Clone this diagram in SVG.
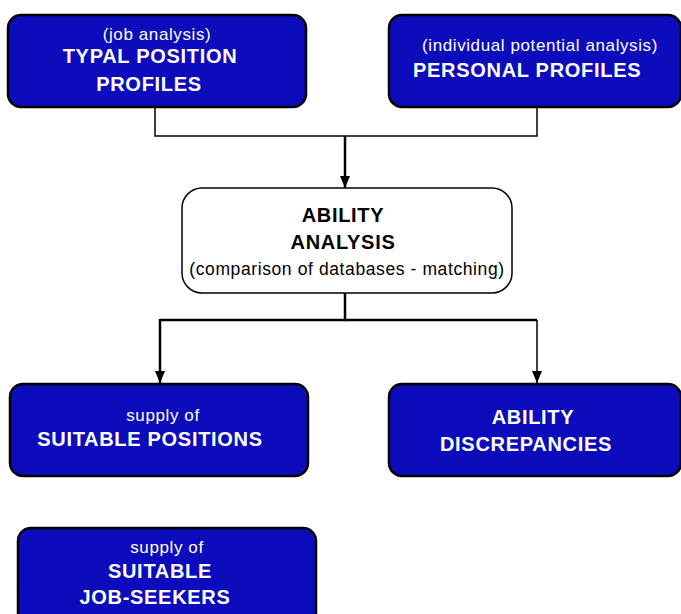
<svg xmlns="http://www.w3.org/2000/svg" width="681" height="614" viewBox="0 0 681 614">
<defs>
<style>
.blue{fill:#0c0cbc;stroke:#000;stroke-width:2.5}
.white{fill:#fff;stroke:#000;stroke-width:1.5}
.wt{fill:#fff;font-family:"Liberation Sans",Arial,sans-serif;font-size:17px;letter-spacing:0.6px}
.wb{fill:#fff;font-family:"Liberation Sans",Arial,sans-serif;font-size:20px;font-weight:bold;letter-spacing:0.7px}
.bt{fill:#000;font-family:"Liberation Sans",Arial,sans-serif;font-size:17.5px;letter-spacing:0.6px}
.bb{fill:#000;font-family:"Liberation Sans",Arial,sans-serif;font-size:20px;font-weight:bold;letter-spacing:0.7px}
.line{fill:none;stroke:#000;stroke-width:1.5}
.thick{fill:none;stroke:#000;stroke-width:2.5}
</style>
<marker id="arr" viewBox="0 0 12 10" refX="12" refY="5" markerWidth="12" markerHeight="10" markerUnits="userSpaceOnUse" orient="auto">
<path d="M0,0 L12,5 L0,10 Z" fill="#000"/>
</marker>
</defs>
<rect width="681" height="614" fill="#fff"/>
<g id="connectors">
<polyline class="line" points="155,107 155,136 537,136 537,107"/>
<line class="thick" x1="345" y1="136" x2="345" y2="188" marker-end="url(#arr)"/>
<polyline class="thick" points="345,293 345,320 160,320"/>
<line class="thick" x1="160" y1="319" x2="160" y2="383" marker-end="url(#arr)"/>
<polyline class="thick" points="345,320 537,320"/>
<line class="line" x1="537" y1="320" x2="537" y2="383" marker-end="url(#arr)"/>
</g>
<g id="typal">
<rect class="blue" x="8" y="15" width="298" height="92" rx="13"/>
<text class="wt" x="157" y="40" text-anchor="middle">(job analysis)</text>
<text class="wb" x="150" y="63" text-anchor="middle">TYPAL POSITION</text>
<text class="wb" x="149" y="91" text-anchor="middle">PROFILES</text>
</g>
<g id="personal">
<rect class="blue" x="389" y="15" width="292" height="92" rx="13"/>
<text class="wt" x="540" y="51" text-anchor="middle">(individual potential analysis)</text>
<text class="wb" x="413" y="77">PERSONAL PROFILES</text>
</g>
<g id="ability">
<rect class="white" x="182" y="188" width="330" height="105" rx="20"/>
<text class="bb" x="343" y="222" text-anchor="middle">ABILITY</text>
<text class="bb" x="343" y="249" text-anchor="middle">ANALYSIS</text>
<text class="bt" x="347" y="275" text-anchor="middle">(comparison of databases - matching)</text>
</g>
<g id="positions">
<rect class="blue" x="10" y="384" width="298" height="92" rx="13"/>
<text class="wt" x="163" y="421" text-anchor="middle">supply of</text>
<text class="wb" x="150" y="446" text-anchor="middle">SUITABLE POSITIONS</text>
</g>
<g id="discrepancies">
<rect class="blue" x="389" y="384" width="292" height="92" rx="13"/>
<text class="wb" x="533" y="424" text-anchor="middle">ABILITY</text>
<text class="wb" x="526" y="451" text-anchor="middle">DISCREPANCIES</text>
</g>
<g id="jobseekers">
<rect class="blue" x="18" y="528" width="298" height="100" rx="13"/>
<text class="wt" x="167" y="553" text-anchor="middle">supply of</text>
<text class="wb" x="160" y="578" text-anchor="middle">SUITABLE</text>
<text class="wb" x="155" y="604" text-anchor="middle">JOB-SEEKERS</text>
</g>
</svg>
